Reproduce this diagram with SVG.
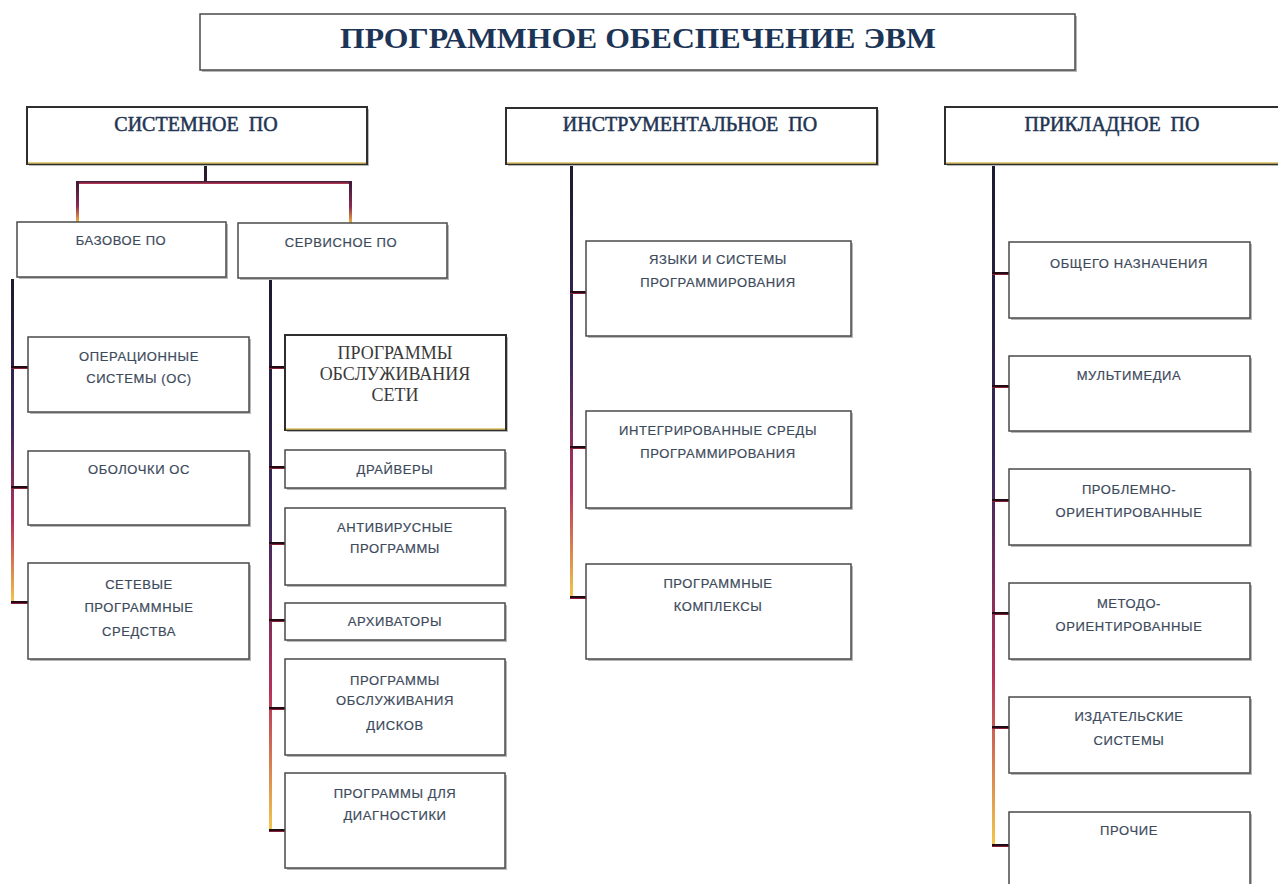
<svg xmlns="http://www.w3.org/2000/svg" width="1278" height="884" viewBox="0 0 1278 884">
<defs>
<linearGradient id="vg" x1="0" y1="0" x2="0" y2="1">
<stop offset="0" stop-color="#1a1a2e"/>
<stop offset="0.45" stop-color="#3b2a5e"/>
<stop offset="0.75" stop-color="#b8325a"/>
<stop offset="1" stop-color="#f3c84a"/>
</linearGradient>
<linearGradient id="tg" x1="0" y1="0" x2="0" y2="1">
<stop offset="0" stop-color="#1a0a12"/>
<stop offset="0.6" stop-color="#2a0a18"/>
<stop offset="1" stop-color="#c8304a"/>
</linearGradient>
<linearGradient id="dg" x1="0" y1="0" x2="0" y2="1">
<stop offset="0" stop-color="#3a1a3a"/>
<stop offset="0.6" stop-color="#8a2a50"/>
<stop offset="1" stop-color="#f0b040"/>
</linearGradient>
<linearGradient id="hg" x1="0" y1="0" x2="0" y2="1">
<stop offset="0" stop-color="#2a1a2e"/>
<stop offset="1" stop-color="#c83a5a"/>
</linearGradient>
</defs>
<style>
.box{fill:#fff;stroke:#4a4a4a;stroke-width:1.5}
.hbox{fill:#fff;stroke:#2e2e2e;stroke-width:2}
.sh{fill:#b8b8b8}
.hl{stroke:#d8c060;stroke-width:1.5}
.t{font-family:"Liberation Sans",Arial,sans-serif;font-size:13px;fill:#3d4a5c;stroke:#3d4a5c;stroke-width:0.2;text-anchor:middle;letter-spacing:0.6px}
.h{font-family:"Liberation Serif","Times New Roman",serif;font-size:20px;fill:#1f3553;stroke:#1f3553;stroke-width:0.5;text-anchor:middle}
.s{font-family:"Liberation Serif","Times New Roman",serif;font-size:18px;fill:#3a3a3a;text-anchor:middle}
.title{font-family:"Liberation Serif","Times New Roman",serif;font-size:30px;font-weight:bold;fill:#1c3557;text-anchor:middle}
</style>

<g id="connectors">
<rect x="204" y="165" width="3" height="19" fill="#2a1a2e"/>
<rect x="76" y="181" width="276" height="3" fill="url(#hg)"/>
<rect x="76" y="182" width="3" height="40" fill="url(#dg)"/>
<rect x="349" y="182" width="3" height="41" fill="url(#dg)"/>
<rect x="11" y="279" width="3" height="325" fill="url(#vg)"/>
<rect x="11" y="366" width="17" height="3" fill="url(#tg)"/>
<rect x="11" y="486" width="17" height="3" fill="url(#tg)"/>
<rect x="11" y="601" width="17" height="3" fill="url(#tg)"/>
<rect x="269" y="280" width="3" height="551" fill="url(#vg)"/>
<rect x="269" y="366" width="16" height="3" fill="url(#tg)"/>
<rect x="269" y="466" width="16" height="3" fill="url(#tg)"/>
<rect x="269" y="542" width="16" height="3" fill="url(#tg)"/>
<rect x="269" y="619" width="16" height="3" fill="url(#tg)"/>
<rect x="269" y="707" width="16" height="3" fill="url(#tg)"/>
<rect x="269" y="829" width="16" height="3" fill="url(#tg)"/>
<rect x="570" y="164" width="3" height="435" fill="url(#vg)"/>
<rect x="570" y="291" width="16" height="3" fill="url(#tg)"/>
<rect x="570" y="446" width="16" height="3" fill="url(#tg)"/>
<rect x="570" y="596" width="16" height="3" fill="url(#tg)"/>
<rect x="992" y="164" width="3" height="683" fill="url(#vg)"/>
<rect x="992" y="272" width="17" height="3" fill="url(#tg)"/>
<rect x="992" y="385" width="17" height="3" fill="url(#tg)"/>
<rect x="992" y="499" width="17" height="3" fill="url(#tg)"/>
<rect x="992" y="612" width="17" height="3" fill="url(#tg)"/>
<rect x="992" y="726" width="17" height="3" fill="url(#tg)"/>
<rect x="992" y="844" width="17" height="3" fill="url(#tg)"/>
</g>

<g id="title">
<rect class="sh" x="202" y="16" width="875" height="56"/>
<rect class="box" x="200" y="14" width="875" height="56"/>
<text class="title" x="638" y="48" textLength="596" lengthAdjust="spacingAndGlyphs">ПРОГРАММНОЕ ОБЕСПЕЧЕНИЕ ЭВМ</text>
</g>

<g id="system">
<rect class="sh" x="29" y="109" width="340" height="57"/>
<rect class="hbox" x="27" y="107" width="340" height="57"/>
<line class="hl" x1="28" y1="163" x2="366" y2="163"/>
<text class="h" x="196" y="131" xml:space="preserve">СИСТЕМНОЕ  ПО</text>
</g>
<g id="instrumental">
<rect class="sh" x="508" y="110" width="371" height="56"/>
<rect class="hbox" x="506" y="108" width="371" height="56"/>
<line class="hl" x1="507" y1="163" x2="876" y2="163"/>
<text class="h" x="690" y="131" xml:space="preserve">ИНСТРУМЕНТАЛЬНОЕ  ПО</text>
</g>
<g id="applied">
<rect class="sh" x="947" y="109" width="340" height="57"/>
<rect class="hbox" x="945" y="107" width="345" height="57"/>
<line class="hl" x1="946" y1="163" x2="1278" y2="163"/>
<text class="h" x="1112" y="131" xml:space="preserve">ПРИКЛАДНОЕ  ПО</text>
</g>

<g id="base">
<rect class="sh" x="19" y="224" width="209" height="55"/>
<rect class="box" x="17" y="222" width="209" height="55"/>
<text class="t" x="121" y="245">БАЗОВОЕ ПО</text>
</g>
<g id="service">
<rect class="sh" x="240" y="225" width="209" height="55"/>
<rect class="box" x="238" y="223" width="209" height="55"/>
<text class="t" x="341" y="247">СЕРВИСНОЕ ПО</text>
</g>

<g id="os">
<rect class="sh" x="30" y="339" width="221" height="75"/>
<rect class="box" x="28" y="337" width="221" height="75"/>
<text class="t" x="139" y="361">ОПЕРАЦИОННЫЕ</text>
<text class="t" x="139" y="383">СИСТЕМЫ (ОС)</text>
</g>
<g id="shells">
<rect class="sh" x="30" y="453" width="221" height="74"/>
<rect class="box" x="28" y="451" width="221" height="74"/>
<text class="t" x="139" y="474">ОБОЛОЧКИ ОС</text>
</g>
<g id="netsw">
<rect class="sh" x="30" y="565" width="221" height="96"/>
<rect class="box" x="28" y="563" width="221" height="96"/>
<text class="t" x="139" y="589">СЕТЕВЫЕ</text>
<text class="t" x="139" y="612">ПРОГРАММНЫЕ</text>
<text class="t" x="139" y="636">СРЕДСТВА</text>
</g>

<g id="netsvc">
<rect class="sh" x="287" y="337" width="221" height="95"/>
<rect class="hbox" x="285" y="335" width="221" height="95"/>
<line class="hl" x1="286" y1="429" x2="505" y2="429"/>
<text class="s" x="395" y="359">ПРОГРАММЫ</text>
<text class="s" x="395" y="380">ОБСЛУЖИВАНИЯ</text>
<text class="s" x="395" y="401">СЕТИ</text>
</g>
<g id="drivers">
<rect class="sh" x="287" y="452" width="220" height="38"/>
<rect class="box" x="285" y="450" width="220" height="38"/>
<text class="t" x="395" y="474">ДРАЙВЕРЫ</text>
</g>
<g id="antivirus">
<rect class="sh" x="287" y="510" width="220" height="77"/>
<rect class="box" x="285" y="508" width="220" height="77"/>
<text class="t" x="395" y="532">АНТИВИРУСНЫЕ</text>
<text class="t" x="395" y="553">ПРОГРАММЫ</text>
</g>
<g id="archivers">
<rect class="sh" x="287" y="605" width="220" height="37"/>
<rect class="box" x="285" y="603" width="220" height="37"/>
<text class="t" x="395" y="626">АРХИВАТОРЫ</text>
</g>
<g id="disks">
<rect class="sh" x="287" y="661" width="220" height="96"/>
<rect class="box" x="285" y="659" width="220" height="96"/>
<text class="t" x="395" y="685">ПРОГРАММЫ</text>
<text class="t" x="395" y="705">ОБСЛУЖИВАНИЯ</text>
<text class="t" x="395" y="730">ДИСКОВ</text>
</g>
<g id="diag">
<rect class="sh" x="287" y="775" width="220" height="95"/>
<rect class="box" x="285" y="773" width="220" height="95"/>
<text class="t" x="395" y="798">ПРОГРАММЫ ДЛЯ</text>
<text class="t" x="395" y="820">ДИАГНОСТИКИ</text>
</g>

<g id="languages">
<rect class="sh" x="588" y="243" width="265" height="95"/>
<rect class="box" x="586" y="241" width="265" height="95"/>
<text class="t" x="718" y="264">ЯЗЫКИ И СИСТЕМЫ</text>
<text class="t" x="718" y="287">ПРОГРАММИРОВАНИЯ</text>
</g>
<g id="ide">
<rect class="sh" x="588" y="413" width="265" height="97"/>
<rect class="box" x="586" y="411" width="265" height="97"/>
<text class="t" x="718" y="435">ИНТЕГРИРОВАННЫЕ СРЕДЫ</text>
<text class="t" x="718" y="458">ПРОГРАММИРОВАНИЯ</text>
</g>
<g id="complexes">
<rect class="sh" x="588" y="566" width="265" height="95"/>
<rect class="box" x="586" y="564" width="265" height="95"/>
<text class="t" x="718" y="588">ПРОГРАММНЫЕ</text>
<text class="t" x="718" y="611">КОМПЛЕКСЫ</text>
</g>

<g id="general">
<rect class="sh" x="1011" y="244" width="241" height="76"/>
<rect class="box" x="1009" y="242" width="241" height="76"/>
<text class="t" x="1129" y="268">ОБЩЕГО НАЗНАЧЕНИЯ</text>
</g>
<g id="multimedia">
<rect class="sh" x="1011" y="358" width="241" height="75"/>
<rect class="box" x="1009" y="356" width="241" height="75"/>
<text class="t" x="1129" y="380">МУЛЬТИМЕДИА</text>
</g>
<g id="problem">
<rect class="sh" x="1011" y="471" width="241" height="76"/>
<rect class="box" x="1009" y="469" width="241" height="76"/>
<text class="t" x="1129" y="494">ПРОБЛЕМНО-</text>
<text class="t" x="1129" y="517">ОРИЕНТИРОВАННЫЕ</text>
</g>
<g id="method">
<rect class="sh" x="1011" y="585" width="241" height="76"/>
<rect class="box" x="1009" y="583" width="241" height="76"/>
<text class="t" x="1129" y="608">МЕТОДО-</text>
<text class="t" x="1129" y="631">ОРИЕНТИРОВАННЫЕ</text>
</g>
<g id="publishing">
<rect class="sh" x="1011" y="699" width="241" height="76"/>
<rect class="box" x="1009" y="697" width="241" height="76"/>
<text class="t" x="1129" y="721">ИЗДАТЕЛЬСКИЕ</text>
<text class="t" x="1129" y="745">СИСТЕМЫ</text>
</g>
<g id="other">
<rect class="sh" x="1011" y="814" width="241" height="80"/>
<rect class="box" x="1009" y="812" width="241" height="80"/>
<text class="t" x="1129" y="835">ПРОЧИЕ</text>
</g>
</svg>
